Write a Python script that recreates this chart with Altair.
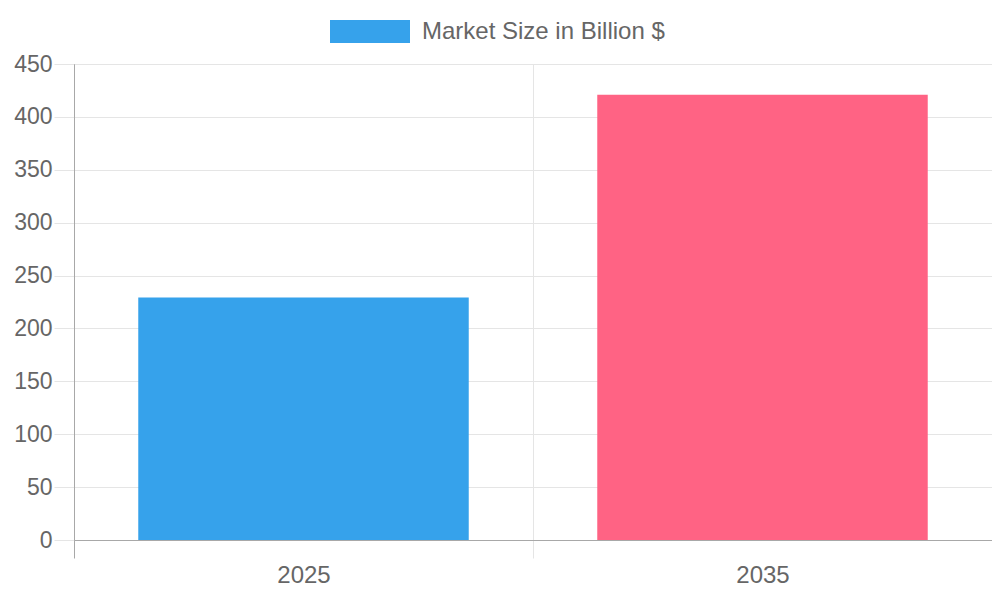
import altair as alt
import pandas as pd

years = ['2025', '2035']
market_size = [229.2, 421.0]
bar_colors = ['#36a2eb', '#ff6384']
series_name = 'Market Size in Billion $'
y_ticks = [0, 50, 100, 150, 200, 250, 300, 350, 400, 450]

df = pd.DataFrame({
    'year': years,
    'value': market_size,
    'series': [series_name] * len(years),
})

FONT = 'Liberation Sans'
TEXT = '#666666'
GRID = '#e5e5e5'
AXIS = '#a8a8a8'

# the first band edge doubles as the y axis line, so it gets the darker colour
first_edge = {'condition': {'test': 'datum.index < 0', 'value': AXIS}, 'value': GRID}

x_enc = alt.X('year:N', sort=years, title=None,
              scale=alt.Scale(paddingInner=0, paddingOuter=0),
              axis=alt.Axis(labelAngle=0, tickBand='extent', grid=True,
                            gridColor=first_edge, tickColor=first_edge, tickSize=18,
                            domainColor=AXIS, labelFont=FONT, labelFontSize=24,
                            labelColor=TEXT, labelPadding=5, zindex=1))
y_enc = alt.Y('value:Q', title=None,
              scale=alt.Scale(domain=[0, 450], nice=False),
              axis=alt.Axis(values=y_ticks, grid=True, gridColor=GRID,
                            tickColor=GRID, tickSize=20, domainColor=AXIS,
                            labelFont=FONT, labelFontSize=23, labelColor=TEXT,
                            labelPadding=2))

base = alt.Chart(df)

bars = base.mark_bar(width=alt.RelativeBandSize(0.72)).encode(
    x=x_enc,
    y=y_enc,
    fill=alt.Fill('year:N', scale=alt.Scale(domain=years, range=bar_colors), legend=None),
)

# invisible copy, only there to carry the single-entry legend
legend_layer = base.mark_bar(width=alt.RelativeBandSize(0.72), opacity=0).encode(
    x=x_enc,
    y=y_enc,
    color=alt.Color('series:N', scale=alt.Scale(range=[bar_colors[0]]),
                    legend=alt.Legend(title=None, orient='none', legendX=256, legendY=-72.5,
                                      symbolType='M-1,-0.2875L1,-0.2875L1,0.2875L-1,0.2875Z',
                                      symbolSize=6400, symbolOpacity=1, symbolStrokeWidth=0,
                                      labelFont=FONT, labelFontSize=24, labelColor=TEXT,
                                      labelOffset=12, labelLimit=0)),
)

chart = alt.layer(bars, legend_layer).properties(
    width=918,
    height=476,
    autosize=alt.AutoSizeParams(type='none'),
    padding={'left': 66, 'top': 56, 'right': 0, 'bottom': 50},
).configure_view(stroke=None)

chart.save('out.html', embed_options={'renderer': 'svg', 'actions': False})
